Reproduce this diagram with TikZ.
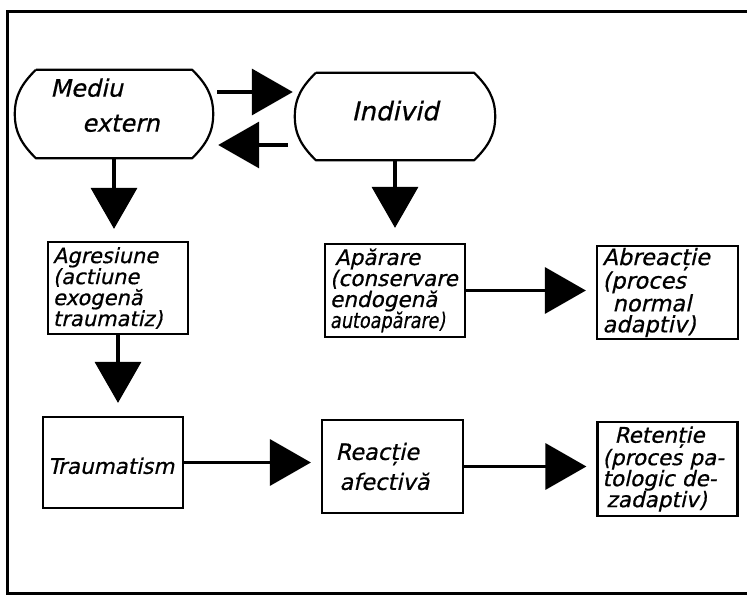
\documentclass[tikz,border=0pt]{standalone}
\usepackage{fontspec}
\usepackage{graphicx}
\usetikzlibrary{arrows.meta,calc}
\newfontfamily\hand[FakeSlant=0.22,FakeBold=0.6]{DejaVu Sans}
\newcommand\stadiumoutline[1]{%
  \draw[boxline] ([xshift=21pt]#1.north west) -- ([xshift=-21pt]#1.north east)
    to[out=-45,in=90] (#1.east) to[out=-90,in=45] ([xshift=-21pt]#1.south east)
    -- ([xshift=21pt]#1.south west) to[out=135,in=-90] (#1.west)
    to[out=90,in=-135] ([xshift=21pt]#1.north west);}
\begin{document}
\begin{tikzpicture}[x=1pt,y=1pt,
  boxline/.style={line width=2.2pt, line join=round},
  stad/.style={draw=none, minimum width=198pt, minimum height=88pt, inner sep=0pt, align=left},
  rect/.style={draw, line width=2.2pt, minimum width=140pt, minimum height=92pt,
     inner xsep=5pt, inner ysep=0pt, text width=130pt, align=left,
     font=\hand\fontsize{21.5}{21}\selectfont},
  arr/.style={line width=3.5pt, -{Triangle[length=41pt,width=46pt]}},
  frame/.style={line width=3pt}]
\useasboundingbox (0,0) rectangle (747,598);
% frame
\draw[frame] (747,586) -- (7,586) -- (7,5) -- (747,5);
% nodes
\node[stad, minimum width=198pt, font=\hand\fontsize{24}{35}\selectfont, text depth=18pt] (med) at (114,484) {Mediu\\\hspace*{32pt}extern\hspace*{18pt}};
\node[stad, minimum width=200pt, minimum height=87pt, font=\hand\fontsize{26}{28}\selectfont, text depth=12pt] (ind) at (395,481.5) {Individ};
\stadiumoutline{med}
\stadiumoutline{ind}
\node[rect, font=\hand\fontsize{21}{21}\selectfont] (agr) at (118,310) {Agresiune\\(actiune\\exogenă\\traumatiz)};
\node[rect, minimum height=93pt] (apa) at (395,307.5) {\hspace*{5pt}Apărare\\(conservare\\endogenă\\\scalebox{0.82}[1]{autoapărare)}};
\node[rect, minimum width=141pt, minimum height=93pt, font=\hand\fontsize{22.5}{21}\selectfont] (abr) at (667.5,305.5) {Abreacție\\(proces\\\hspace*{10pt}normal\\adaptiv)};
\node[rect, minimum height=91pt, font=\hand\fontsize{21.5}{21}\selectfont] (tra) at (113,135.5) {\vspace*{2pt}\par Traumatism};
\node[rect, minimum width=141pt, minimum height=93pt, font=\hand\fontsize{22.5}{30}\selectfont] (rea) at (392.5,131.5) {\hspace*{8pt}Reacție\\\hspace*{12pt}afectivă\par\vspace*{20pt}};
\node[rect, minimum width=139pt, minimum height=94pt] (ret) at (667.5,129) {\hspace*{12pt}Retenție\\(proces pa-\\tologic de-\\\hspace*{4pt}zadaptiv)};
% connectors
\draw[arr, shorten <=4pt, shorten >=2pt] ([yshift=22pt]med.east) -- ([yshift=22pt]med.east -| ind.west);
\draw[arr, shorten <=7pt, shorten >=5pt] ([yshift=-28.5pt]ind.west) -- ([yshift=-28.5pt]ind.west -| med.east);
\draw[arr, shorten >=12pt] (med.south) -- (med.south |- agr.north);
\draw[arr, shorten >=15pt] (ind.south) -- (apa.north);
\draw[arr, shorten >=13pt] (agr.south) -- (agr.south |- tra.north);
\draw[arr, shorten >=10pt] (tra.east) -- (tra.east -| rea.west);
\draw[arr, shorten >=10pt] (rea.east) -- (rea.east -| ret.west);
\draw[arr, shorten >=10pt] (apa.east) -- (apa.east -| abr.west);
\end{tikzpicture}
\end{document}
